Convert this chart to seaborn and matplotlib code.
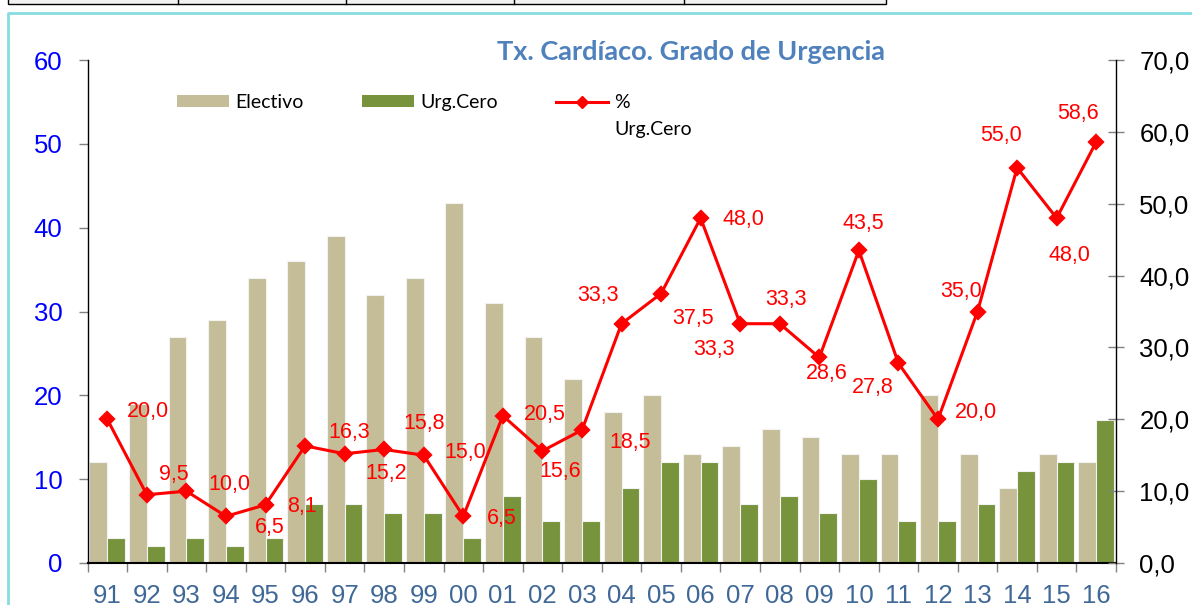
import matplotlib
matplotlib.use("Agg")
import matplotlib.pyplot as plt
import seaborn as sns
import pandas as pd
import numpy as np
from matplotlib.patches import Patch, Rectangle
from matplotlib.lines import Line2D

# ---------------- data ----------------
years = ["91", "92", "93", "94", "95", "96", "97", "98", "99", "00", "01", "02", "03",
         "04", "05", "06", "07", "08", "09", "10", "11", "12", "13", "14", "15", "16"]
electivo = [12, 19, 27, 29, 34, 36, 39, 32, 34, 43, 31, 27, 22,
            18, 20, 13, 14, 16, 15, 13, 13, 20, 13, 9, 13, 12]
urg_cero = [3, 2, 3, 2, 3, 7, 7, 6, 6, 3, 8, 5, 5,
            9, 12, 12, 7, 8, 6, 10, 5, 5, 7, 11, 12, 17]
pct_urg_cero = [20.0, 9.5, 10.0, 6.5, 8.1, 16.3, 15.2, 15.8, 15.0, 6.5, 20.5, 15.6, 18.5,
                33.3, 37.5, 48.0, 33.3, 33.3, 28.6, 43.5, 27.8, 20.0, 35.0, 55.0, 48.0, 58.6]
left_ticks = [0, 10, 20, 30, 40, 50, 60]
right_ticks = [0, 10, 20, 30, 40, 50, 60, 70]
bar_series = ["Electivo", "Urg.Cero"]
line_label_lines = ["%", "Urg.Cero"]
title = "Tx. Cardíaco. Grado de Urgencia"

# label placement (pixel offsets from each point), layout only
label_offsets = [(41, 8), (27, 20), (43, 7), (44, -11), (36, -2), (44, 13), (42, -20),
                 (40, 26), (42, 3), (38, -2), (42, 1), (18, -21), (48, -12), (-24, 28),
                 (32, -25), (43, -1), (-26, -26), (6, 24), (7, -16), (4, 27), (-26, -24),
                 (38, 7), (-16, 20), (-16, 32), (13, -37), (-18, 28)]

# ---------------- style ----------------
TAN = "#C4BD97"
GREEN = "#77933C"
RED = "#FF0000"
W, H = 1192, 605
LEG_FONT = ["Lato", "DejaVu Sans"]

plt.rcParams['font.family'] = ['Liberation Sans', 'DejaVu Sans']

fig = plt.figure(figsize=(W / 100, H / 100), dpi=100)
fig.patch.set_facecolor("white")


def fx(px):
    return px / W


def fy(py):
    return 1 - py / H


ax = fig.add_axes([fx(87.5), fy(563), fx(1116) - fx(87.5), fy(60) - fy(563)])

df = pd.DataFrame({
    "year": years * 2,
    "value": electivo + urg_cero,
    "serie": [bar_series[0]] * len(years) + [bar_series[1]] * len(years),
})
sns.barplot(data=df, x="year", y="value", hue="serie", order=years, hue_order=bar_series,
            palette=[TAN, GREEN], saturation=1, width=0.9, gap=0,
            edgecolor="#F2F2F2", linewidth=0.8, ax=ax, legend=False)

ax2 = ax.twinx()
sns.pointplot(x=years, y=pct_urg_cero, order=years, color=RED, markers="D",
              markersize=7, linewidth=2.2, errorbar=None, ax=ax2)

ax.set_xlim(-0.5, len(years) - 0.5)
ax.set_ylim(0, 60)
ax2.set_ylim(0, 70)
ax.set_xlabel("")
ax.set_ylabel("")
ax2.set_xlabel("")
ax2.set_ylabel("")

# left axis
ax.set_yticks(left_ticks)
ax.set_yticklabels([str(t) for t in left_ticks])
ax.tick_params(axis="y", direction="out", length=6.5, width=1, color="#808080",
               pad=11.5, labelsize=18.5, labelcolor="#0000FF")
# x axis
ax.set_xticks(range(len(years)))
ax.set_xticklabels(years)
ax.set_xticks(np.arange(-0.5, len(years), 1.0), minor=True)
ax.tick_params(axis="x", which="major", length=0, pad=15, labelsize=18.5,
               labelcolor="#3F6897")
ax.tick_params(axis="x", which="minor", direction="out", length=6.5, width=1,
               color="#808080")
# right axis
ax2.set_yticks(right_ticks)
ax2.set_yticklabels([f"{t:.1f}".replace(".", ",") for t in right_ticks])
ax2.tick_params(axis="y", direction="inout", length=11.5, width=1, color="#808080",
                pad=11, labelsize=18.5, labelcolor="black")

for s in ["top", "right"]:
    ax.spines[s].set_visible(False)
for s in ["top", "left", "bottom"]:
    ax2.spines[s].set_visible(False)
ax.spines["left"].set_color("black")
ax.spines["left"].set_linewidth(1)
ax.spines["bottom"].set_color("black")
ax.spines["bottom"].set_linewidth(1.5)
ax2.spines["right"].set_color("black")
ax2.spines["right"].set_linewidth(1)
ax.grid(False)
ax2.grid(False)

# data labels
for i, (v, (dx, dy)) in enumerate(zip(pct_urg_cero, label_offsets)):
    ax2.annotate(f"{v:.1f}".replace(".", ","), xy=(i, v), xytext=(dx, dy),
                 textcoords="offset pixels", ha="center", va="center",
                 color=RED, fontsize=15.5, annotation_clip=False)

# title
fig.text(fx(691), fy(52), title, ha="center", va="center", fontweight="bold",
         color="#4F81BD", fontsize=19.5, family=["Lato", "DejaVu Sans"])

# legend
handles = [Patch(facecolor=TAN, edgecolor="none"),
           Patch(facecolor=GREEN, edgecolor="none"),
           Line2D([], [], color=RED, lw=2.2, marker="D", markersize=6)]
leg = fig.legend(handles, [bar_series[0], bar_series[1], line_label_lines[0]],
                 ncol=3, frameon=False, loc="upper left",
                 bbox_to_anchor=(fx(177), fy(94)), bbox_transform=fig.transFigure,
                 prop={"family": LEG_FONT, "size": 14},
                 handlelength=2.68, handleheight=0.55, handletextpad=0.31,
                 columnspacing=3.0, borderpad=0, borderaxespad=0)

# second line of the "% Urg.Cero" legend label, placed under the "%" text
fig.canvas.draw()
pct_bb = leg.get_texts()[2].get_window_extent(fig.canvas.get_renderer())
fig.text(pct_bb.x0 / W, (pct_bb.y0 - 27) / H, line_label_lines[1], ha="left", va="bottom",
         family=LEG_FONT, fontsize=14, color="black")

# outer decorations: cyan frame and table strip at top
fig.add_artist(Line2D([fx(8), fx(8), fx(1192)], [fy(605), fy(12.5), fy(12.5)],
                      transform=fig.transFigure, color="#86DCDE", lw=2))
fig.add_artist(Rectangle((fx(8), fy(4)), fx(886) - fx(8), fy(-2) - fy(4),
                         transform=fig.transFigure, facecolor="#F2F2F2",
                         edgecolor="black", lw=1))
for xv in [178, 346, 514, 684]:
    fig.add_artist(Line2D([fx(xv), fx(xv)], [fy(4), fy(0)], transform=fig.transFigure,
                          color="black", lw=1))

fig.savefig("out.png", dpi=100)
